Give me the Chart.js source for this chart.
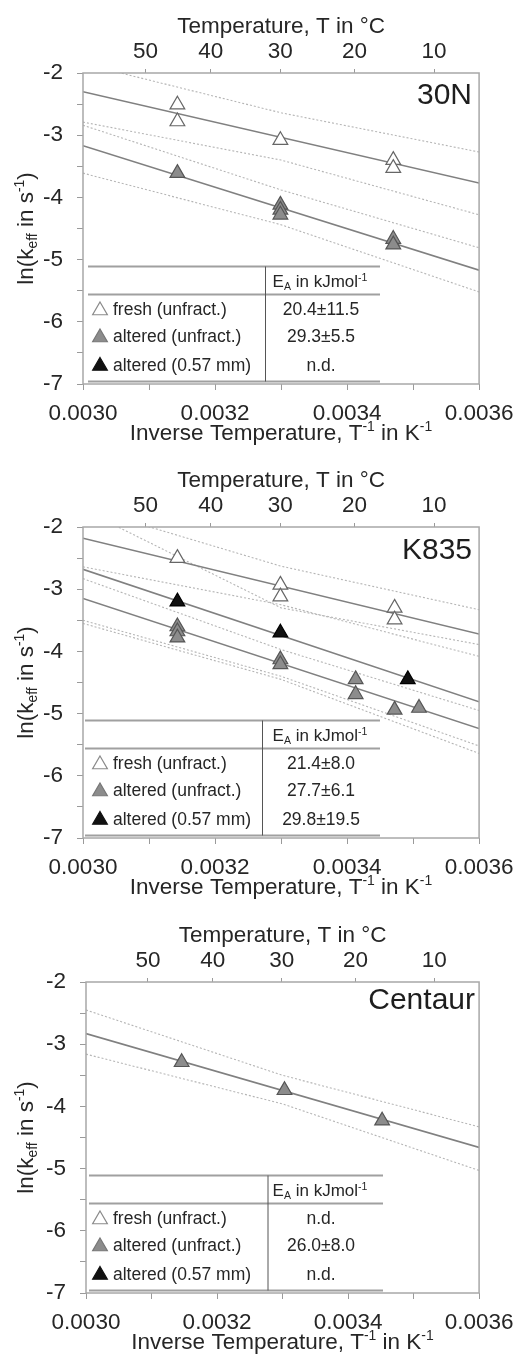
<!DOCTYPE html>
<html>
<head>
<meta charset="utf-8">
<script src="https://cdn.jsdelivr.net/npm/chart.js"></script>
<style>
  body { margin: 0; background: #fff; }
  canvas { display: block; }
</style>
</head>
<body>
<canvas id="grafico-30n" width="524" height="454"></canvas>
<canvas id="grafico-k835" width="524" height="454"></canvas>
<canvas id="grafico-centaur" width="524" height="451"></canvas>
<script>

// Ticks del eje superior (temperatura en °C)
const temperaturasEje = [50, 40, 30, 20, 10];
const filasTabla = ['fresh (unfract.)', 'altered (unfract.)', 'altered (0.57 mm)'];
// x comun para las rectas de ajuste y las bandas
const xBordes = [0.0030, 0.0036];
const xBanda = [0.0030, 0.0033, 0.0036];

// ---- 30N ----
const n30FrescoX = [0.003143, 0.003143, 0.003299, 0.003470, 0.003470];
const n30FrescoY = [-2.51, -2.78, -3.08, -3.40, -3.53];
const n30AlteradoX = [0.003143, 0.003299, 0.003299, 0.003299, 0.003470, 0.003470];
const n30AlteradoY = [-3.61, -4.12, -4.20, -4.28, -4.67, -4.76];
const n30AjusteFresco = [-2.30, -3.77];
const n30BandaFrescoSup = [-1.85, -2.64, -3.27];
const n30BandaFrescoInf = [-2.79, -3.40, -4.28];
const n30AjusteAlterado = [-3.17, -5.17];
const n30BandaAlteradoSup = [-2.84, -3.88, -4.81];
const n30BandaAlteradoInf = [-3.61, -4.44, -5.52];
const n30Ea = ['20.4±11.5', '29.3±5.5', 'n.d.'];

// ---- K835 ----
const k835FrescoX = [0.003143, 0.003299, 0.003299, 0.003472, 0.003472];
const k835FrescoY = [-2.50, -2.93, -3.12, -3.30, -3.49];
const k835AlteradoX = [0.003143, 0.003143, 0.003143, 0.003299, 0.003299, 0.003413, 0.003413, 0.003472, 0.003509];
const k835AlteradoY = [-3.60, -3.68, -3.78, -4.13, -4.21, -4.45, -4.69, -4.94, -4.91];
const k835FinoX = [0.003143, 0.003299, 0.003492];
const k835FinoY = [-3.20, -3.70, -4.45];
const k835AjusteFresco = [-2.18, -3.72];
const k835BandaFrescoSup = [-1.68, -2.63, -3.33];
const k835BandaFrescoInf = [-2.64, -3.25, -4.08];
const k835AjusteFino = [-2.68, -4.81];
const k835BandaFinoSup = [-1.72, -3.30, -3.89];
const k835BandaFinoInf = [-3.55, -4.45, -5.64];
const k835AjusteAlterado = [-3.15, -5.24];
const k835BandaAlteradoSup = [-2.83, -3.97, -4.95];
const k835BandaAlteradoInf = [-3.50, -4.40, -5.52];
const k835Ea = ['21.4±8.0', '27.7±6.1', '29.8±19.5'];

// ---- Centaur ----
const centaurAlteradoX = [0.003146, 0.003303, 0.003452];
const centaurAlteradoY = [-3.29, -3.74, -4.23];
const centaurAjusteAlterado = [-2.83, -4.66];
const centaurBandaAlteradoSup = [-2.45, -3.50, -4.33];
const centaurBandaAlteradoInf = [-3.16, -3.96, -5.03];
const centaurEa = ['n.d.', '26.0±8.0', 'n.d.'];

const FAMILIA = '"Liberation Sans", Arial, sans-serif';
const COLOR_TEXTO = '#262626';
Chart.defaults.font.family = FAMILIA;
Chart.defaults.color = COLOR_TEXTO;

function puntos(xs, ys) {
    return xs.map(function (x, i) { return { x: x, y: ys[i] }; });
}

function serieMarcas(xs, ys, relleno, borde) {
    return {
        data: puntos(xs, ys),
        showLine: false,
        pointStyle: 'triangle',
        pointRadius: 8.5,
        pointHoverRadius: 8.5,
        pointBackgroundColor: relleno,
        pointBorderColor: borde,
        pointBorderWidth: 1.2,
        order: 0
    };
}

function serieLinea(xs, ys, punteada) {
    return {
        data: puntos(xs, ys),
        showLine: true,
        pointRadius: 0,
        pointHoverRadius: 0,
        borderColor: punteada ? '#b5b5b5' : '#808080',
        borderWidth: punteada ? 1.1 : 1.6,
        borderDash: punteada ? [2, 2] : [],
        fill: false,
        order: 1
    };
}

// texto con subindices (-1) y superindices (1), centrado en x, y = linea base
function dibujarTextoRico(c, partes, x, y, tam) {
    let ancho = 0;
    partes.forEach(function (p) {
        c.font = (p[1] ? tam * 0.62 : tam) + 'px ' + FAMILIA;
        ancho += c.measureText(p[0]).width;
    });
    let cx = x - ancho / 2;
    c.textAlign = 'left';
    c.textBaseline = 'alphabetic';
    partes.forEach(function (p) {
        c.font = (p[1] ? tam * 0.62 : tam) + 'px ' + FAMILIA;
        let dy = 0;
        if (p[1] === -1) dy = tam * 0.2;
        if (p[1] === 1) dy = -tam * 0.38;
        c.fillText(p[0], cx, y + dy);
        cx += c.measureText(p[0]).width;
    });
}

function triangulo(c, x, y, r, relleno, borde) {
    c.beginPath();
    c.moveTo(x, y - r);
    c.lineTo(x + Math.sin(2 * Math.PI / 3) * r, y + r / 2);
    c.lineTo(x - Math.sin(2 * Math.PI / 3) * r, y + r / 2);
    c.closePath();
    c.fillStyle = relleno;
    c.fill();
    c.lineWidth = 1.2;
    c.strokeStyle = borde;
    c.stroke();
}

function pluginDecoracion(muestra, valoresEa, ajustes) {
    return {
        id: 'decoracion',
        afterDraw: function (chart) {
            const c = chart.ctx;
            const a = chart.chartArea;
            c.save();

            // marco del grafico
            c.strokeStyle = '#a8a8a8';
            c.lineWidth = 1.5;
            c.strokeRect(a.left, a.top, a.right - a.left, a.bottom - a.top);

            // nombre de la muestra
            c.fillStyle = '#1e1e1e';
            c.font = '30px ' + FAMILIA;
            c.textAlign = 'right';
            c.textBaseline = 'middle';
            c.fillText(muestra, ajustes.nombreX, a.top + ajustes.nombreY);

            // tabla de energias de activacion
            c.strokeStyle = '#a0a0a0';
            c.lineWidth = 2.2;
            [193.5, 221.5, 308.5].forEach(function (dy) {
                c.beginPath();
                c.moveTo(ajustes.tablaIzq, a.top + dy);
                c.lineTo(ajustes.tablaDer, a.top + dy);
                c.stroke();
            });
            c.strokeStyle = '#555';
            c.lineWidth = 1;
            c.beginPath();
            c.moveTo(ajustes.tablaMedio, a.top + 193.5);
            c.lineTo(ajustes.tablaMedio, a.top + 308.5);
            c.stroke();

            c.fillStyle = COLOR_TEXTO;
            dibujarTextoRico(c, [['E', 0], ['A', -1], [' in kJmol', 0], ['-1', 1]], 320, a.top + 214, 17);

            const filasY = [237.5, 264.5, 293];
            const rellenos = ['#ffffff', '#8c8c8c', '#111111'];
            const bordes = ['#8a8a8a', '#777777', '#111111'];
            filasTabla.forEach(function (fila, i) {
                const y = a.top + filasY[i];
                triangulo(c, 100, y, 8.5, rellenos[i], bordes[i]);
                c.fillStyle = COLOR_TEXTO;
                c.font = '17.5px ' + FAMILIA;
                c.textBaseline = 'middle';
                c.textAlign = 'left';
                c.fillText(fila, 113, y);
                c.textAlign = 'center';
                c.fillText(valoresEa[i], 321, y);
            });

            // titulos de los ejes
            c.fillStyle = COLOR_TEXTO;
            c.font = '22.5px ' + FAMILIA;
            c.textAlign = 'center';
            c.textBaseline = 'alphabetic';
            const centroX = (a.left + a.right) / 2;
            c.fillText('Temperature, T in °C', centroX, a.top - 40);
            dibujarTextoRico(c, [['Inverse Temperature, T', 0], ['-1', 1], [' in K', 0], ['-1', 1]],
                centroX, a.bottom + 55.5, 22.5);

            c.translate(32.5, (a.top + a.bottom) / 2);
            c.rotate(-Math.PI / 2);
            dibujarTextoRico(c, [['ln(k', 0], ['eff', -1], [' in s', 0], ['-1', 1], [')', 0]], 0, 0, 22.5);

            c.restore();
        }
    };
}

function crearGrafico(idCanvas, conjuntos, muestra, valoresEa, ajustes) {
    const ctx = document.getElementById(idCanvas);
    const marcas = { display: true, drawOnChartArea: false, drawTicks: true, tickColor: '#9a9a9a', tickWidth: 1 };
    return new Chart(ctx, {
        type: 'scatter',
        data: { datasets: conjuntos },
        options: {
            responsive: false,
            animation: false,
            events: [],
            layout: { padding: { left: 0, right: ajustes.derecha, top: 0, bottom: 0 } },
            plugins: { legend: { display: false }, tooltip: { enabled: false } },
            scales: {
                x: {
                    type: 'linear',
                    position: 'bottom',
                    min: 0.003,
                    max: 0.0036,
                    afterFit: function (escala) { escala.height = ajustes.altoInferior; },
                    grid: Object.assign({ tickLength: 6 }, marcas),
                    border: { display: false },
                    ticks: {
                        stepSize: 0.0001,
                        autoSkip: false,
                        maxRotation: 0,
                        padding: 10.5,
                        font: { size: 22.5 },
                        callback: function (valor, indice) {
                            return indice % 2 === 0 ? valor.toFixed(4) : '';
                        }
                    }
                },
                x2: {
                    type: 'linear',
                    position: 'top',
                    min: 0.003,
                    max: 0.0036,
                    afterFit: function (escala) { escala.height = ajustes.altoSuperior; },
                    afterBuildTicks: function (escala) {
                        escala.ticks = temperaturasEje.map(function (t) { return { value: 1 / (t + 273.15) }; });
                    },
                    grid: Object.assign({ tickLength: 4 }, marcas),
                    border: { display: false },
                    ticks: {
                        autoSkip: false,
                        maxRotation: 0,
                        padding: 4,
                        font: { size: 22.5 },
                        callback: function (valor) { return Math.round(1 / valor - 273.15); }
                    }
                },
                y: {
                    type: 'linear',
                    min: -7,
                    max: -2,
                    afterFit: function (escala) { escala.width = ajustes.izquierda; },
                    grid: Object.assign({ tickLength: 6 }, marcas),
                    border: { display: false },
                    ticks: {
                        stepSize: 0.5,
                        autoSkip: false,
                        padding: 14,
                        font: { size: 22.5 },
                        callback: function (valor) { return Number.isInteger(valor) ? valor : ''; }
                    }
                }
            }
        },
        plugins: [pluginDecoracion(muestra, valoresEa, ajustes)]
    });
}

const BLANCO = ['#ffffff', '#666666'];
const GRIS = ['#8c8c8c', '#555555'];
const NEGRO = ['#111111', '#000000'];

crearGrafico('grafico-30n', [
    serieMarcas(n30FrescoX, n30FrescoY, BLANCO[0], BLANCO[1]),
    serieMarcas(n30AlteradoX, n30AlteradoY, GRIS[0], GRIS[1]),
    serieLinea(xBordes, n30AjusteFresco, false),
    serieLinea(xBanda, n30BandaFrescoSup, true),
    serieLinea(xBanda, n30BandaFrescoInf, true),
    serieLinea(xBordes, n30AjusteAlterado, false),
    serieLinea(xBanda, n30BandaAlteradoSup, true),
    serieLinea(xBanda, n30BandaAlteradoInf, true)
], '30N', n30Ea, {
    izquierda: 83, derecha: 44, altoSuperior: 73, altoInferior: 70,
    nombreX: 472, nombreY: 23, tablaIzq: 88, tablaDer: 380, tablaMedio: 265.5
});

crearGrafico('grafico-k835', [
    serieMarcas(k835FrescoX, k835FrescoY, BLANCO[0], BLANCO[1]),
    serieMarcas(k835AlteradoX, k835AlteradoY, GRIS[0], GRIS[1]),
    serieMarcas(k835FinoX, k835FinoY, NEGRO[0], NEGRO[1]),
    serieLinea(xBordes, k835AjusteFresco, false),
    serieLinea(xBanda, k835BandaFrescoSup, true),
    serieLinea(xBanda, k835BandaFrescoInf, true),
    serieLinea(xBordes, k835AjusteFino, false),
    serieLinea(xBanda, k835BandaFinoSup, true),
    serieLinea(xBanda, k835BandaFinoInf, true),
    serieLinea(xBordes, k835AjusteAlterado, false),
    serieLinea(xBanda, k835BandaAlteradoSup, true),
    serieLinea(xBanda, k835BandaAlteradoInf, true)
], 'K835', k835Ea, {
    izquierda: 83, derecha: 44, altoSuperior: 73, altoInferior: 70,
    nombreX: 472, nombreY: 23.5, tablaIzq: 85, tablaDer: 380, tablaMedio: 262.5
});

crearGrafico('grafico-centaur', [
    serieMarcas(centaurAlteradoX, centaurAlteradoY, GRIS[0], GRIS[1]),
    serieLinea(xBordes, centaurAjusteAlterado, false),
    serieLinea(xBanda, centaurBandaAlteradoSup, true),
    serieLinea(xBanda, centaurBandaAlteradoInf, true)
], 'Centaur', centaurEa, {
    izquierda: 86, derecha: 43, altoSuperior: 74, altoInferior: 66,
    nombreX: 475, nombreY: 19, tablaIzq: 89, tablaDer: 383, tablaMedio: 268
});
</script>
</body>
</html>
